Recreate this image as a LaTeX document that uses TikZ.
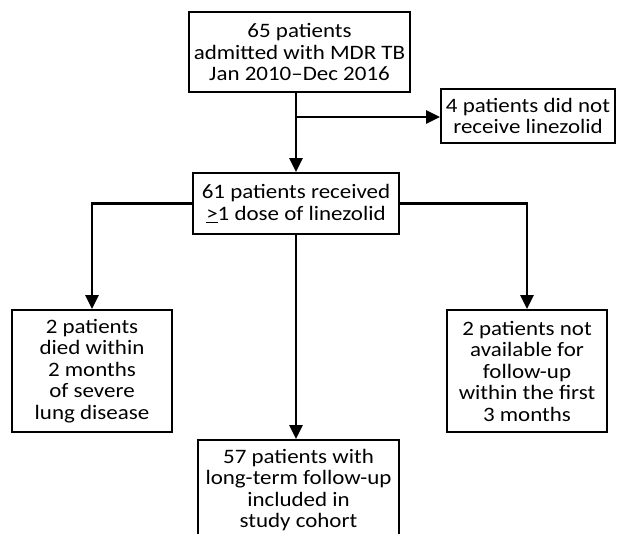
\documentclass[tikz,border=0pt]{standalone}
\usepackage{fontspec}
\setmainfont{Carlito}[FakeStretch=1.12]
\usetikzlibrary{arrows.meta}
\begin{document}
\begin{tikzpicture}[x=1pt,y=1pt,
  box/.style={draw=black,line width=1.8pt,rectangle,inner sep=0pt,align=center,
    font=\fontsize{20.5}{21.5}\selectfont},
  conn/.style={draw=black,line width=2.6pt},
  arr/.style={conn,-{Triangle[width=13pt,length=14pt]}}]
\useasboundingbox (0,0) rectangle (619,-534);
\clip (0,0) rectangle (619,-534);
\node[box,minimum width=221pt,minimum height=80pt] (top) at (299.5,-52) {65 patients\\admitted with MDR TB\\Jan 2010--Dec 2016};
\node[box,minimum width=174pt,minimum height=54pt] (excl) at (528,-116) {4 patients did not\\receive linezolid};
\node[box,minimum width=206pt,minimum height=61pt] (mid) at (296,-203.5) {61 patients received\\\underline{>}1 dose of linezolid};
\node[box,minimum width=160pt,minimum height=122pt] (left) at (92,-371) {2 patients\\died within\\2 months\\of severe\\lung disease};
\node[box,minimum width=160pt,minimum height=122pt] (right) at (527,-371) {2 patients not\\available for\\follow-up\\within the first\\3 months};
\node[box,minimum width=201pt,minimum height=100pt] (cohort) at (298.5,-490) {57 patients with\\long-term follow-up\\included in\\study cohort};
\coordinate (br) at (mid.north |- 0,-117);
\draw[arr] (mid.north |- top.south) -- (mid.north);
\draw[arr] (br) -- (br -| excl.west);
\draw[arr] (mid.west) -| (left.north);
\draw[arr] (mid.east) -| (right.north);
\draw[arr] (mid.south) -- (mid.south |- cohort.north);
\end{tikzpicture}
\end{document}
